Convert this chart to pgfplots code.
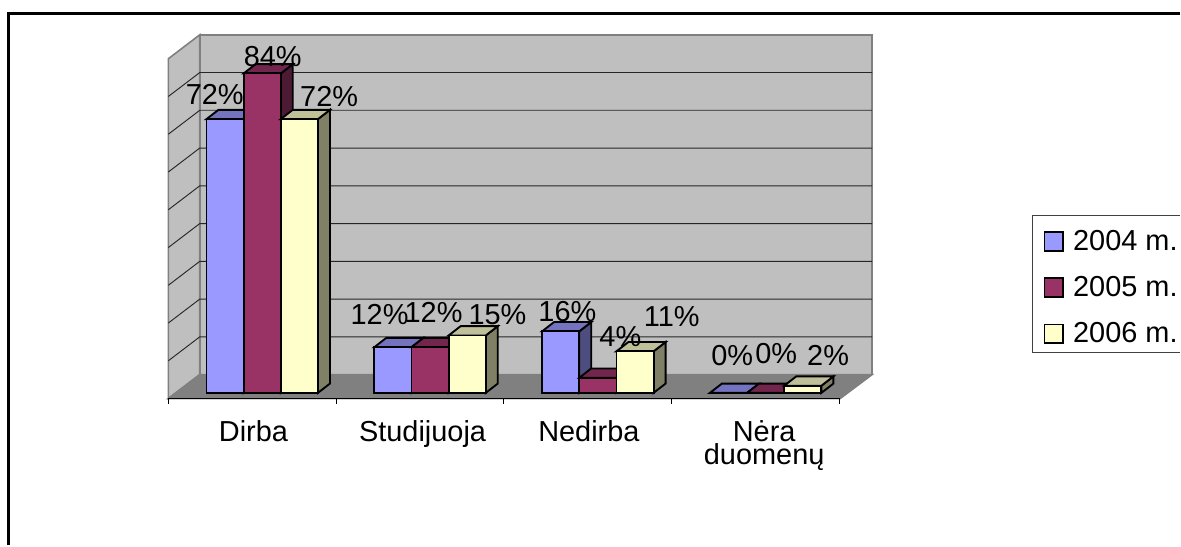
\documentclass[border=0pt]{standalone}
\usepackage{fontspec}
\setmainfont{Liberation Sans}
\usepackage{pgfplots}
\pgfplotsset{compat=1.18}
\definecolor{blueF}{HTML}{9999FF}\definecolor{blueT}{HTML}{7373BF}\definecolor{blueS}{HTML}{4D4D80}
\definecolor{purF}{HTML}{993366}\definecolor{purT}{HTML}{73264D}\definecolor{purS}{HTML}{4D1A33}
\definecolor{creF}{HTML}{FFFFCC}\definecolor{creT}{HTML}{BFBF99}\definecolor{creS}{HTML}{808066}
\tikzset{barline/.style={line width=1.4pt,draw=black}}
% one bar: centre x, value, front, top and side colours
\newcommand{\threedbar}[5]{%
  \addplot[forget plot,fill=#5,barline] coordinates {({#1+18.6},0) ({#1+30.6},2.46) ({#1+30.6},{#2+2.46}) ({#1+18.6},#2)} --cycle;
  \addplot[forget plot,fill=#4,barline] coordinates {({#1-18.6},#2) ({#1-6.6},{#2+2.46}) ({#1+30.6},{#2+2.46}) ({#1+18.6},#2)} --cycle;
  \addplot[forget plot,ybar,bar width=37.2,bar shift=0pt,fill=#3,barline] coordinates {(#1,#2)};
}
\newcommand{\gridpair}[1]{%
  \addplot[forget plot,line width=0.7pt,black!85] coordinates {(168.5,{#1-1.51}) (200,{#1+4.84}) (873,{#1+4.84})};
}
\newcommand{\lab}[3]{%
  \addplot[forget plot,draw=none,mark=none,point meta=explicit symbolic,nodes near coords,
    nodes near coords style={anchor=center,inner sep=0pt,font=\fontsize{21.7}{21.7}\selectfont,text=black}]
    coordinates {(#1,#2)[#3]};
}
\begin{document}
\begin{tikzpicture}
\begin{axis}[
  width=885.75pt,height=409.5pt,scale only axis,
  xmin=0,xmax=1181,ymin=-40.4,ymax=104.05,
  clip=false,
  axis line style={draw=none},
  tick style={draw=none},
  ytick=\empty,
  xtick={253.7,423,589.5,765},
  xticklabels={Dirba,Studijuoja,Nedirba,{Nėra\\duomenų}},
  xticklabel style={align=center,yshift=94pt,inner sep=0pt,
    font=\fontsize{21.7}{17}\selectfont},
  legend image code/.code={\draw[#1,line width=1.3pt] (0pt,-7pt) rectangle (14pt,7pt);\path[draw=none,fill=none] (0pt,0pt) -- (20pt,0pt);},
  legend cell align=left,
  legend style={at={(axis cs:1044.5,43.65)},anchor=north west,draw=none,fill=none,
    font=\fontsize{21.7}{21.7}\selectfont,row sep=15pt,inner sep=0pt,nodes={inner sep=1.5pt}},
]
% outer frame
\addplot[forget plot,black,line width=1.9pt] coordinates {(8.5,-40.4) (8.5,100.5) (1181,100.5)};
% walls and floor
\addplot[forget plot,fill=black!25,draw=black!50,line width=1.2pt] coordinates {(200,4.84) (200,94.84) (873,94.84) (873,4.84)} --cycle;
\addplot[forget plot,fill=black!25,draw=black!50,line width=1.2pt] coordinates {(168.5,-1.51) (168.5,88.49) (200,94.84) (200,4.84)} --cycle;
\addplot[forget plot,fill=black!50,draw=black!50,line width=1.2pt] coordinates {(168.5,-1.51) (841,-1.51) (873,4.84) (200,4.84)} --cycle;
\gridpair{10}\gridpair{20}\gridpair{30}\gridpair{40}\gridpair{50}\gridpair{60}\gridpair{70}\gridpair{80}
\addplot[forget plot,black,line width=0.8pt] coordinates {(168.5,-1.51) (841,-1.51)};
\addplot[forget plot,black,line width=0.8pt] coordinates {(168.5,-1.51) (168.5,-2.9)};
\addplot[forget plot,black,line width=0.8pt] coordinates {(336.5,-1.51) (336.5,-2.9)};
\addplot[forget plot,black,line width=0.8pt] coordinates {(504.5,-1.51) (504.5,-2.9)};
\addplot[forget plot,black,line width=0.8pt] coordinates {(672.5,-1.51) (672.5,-2.9)};
\addplot[forget plot,black,line width=0.8pt] coordinates {(840.7,-1.51) (840.7,-2.9)};
% Dirba
\threedbar{225.3}{72.5}{blueF}{blueT}{blueS}
\threedbar{262.5}{84.6}{purF}{purT}{purS}
\threedbar{299.7}{72.5}{creF}{creT}{creS}
% Studijuoja
\threedbar{393.3}{12.1}{blueF}{blueT}{blueS}
\threedbar{430.5}{12.1}{purF}{purT}{purS}
\threedbar{467.7}{15.2}{creF}{creT}{creS}
% Nedirba
\threedbar{561.3}{16.3}{blueF}{blueT}{blueS}
\threedbar{598.5}{4}{purF}{purT}{purS}
\threedbar{635.7}{11}{creF}{creT}{creS}
% Nera duomenu
\threedbar{729.3}{0}{blueF}{blueT}{blueS}
\threedbar{766.5}{0}{purF}{purT}{purS}
\threedbar{803.7}{1.9}{creF}{creT}{creS}
% data labels
\lab{215}{78.9}{72\%}\lab{273}{89}{84\%}\lab{329.5}{78.5}{72\%}
\lab{380}{20.7}{12\%}\lab{434}{21.3}{12\%}\lab{498}{20.7}{15\%}
\lab{568}{21.6}{16\%}\lab{621}{15}{4\%}\lab{672.5}{20.3}{11\%}
\lab{733}{9.9}{0\%}\lab{777}{10.4}{0\%}\lab{829}{9.9}{2\%}
% legend box (runs off the right edge)
\addplot[forget plot,black!75,line width=0.8pt] coordinates {(1181,47.0) (1034,47.0) (1034,10.7) (1181,10.7)};
\addlegendimage{fill=blueF,draw=black}
\addlegendimage{fill=purF,draw=black}
\addlegendimage{fill=creF,draw=black}
\legend{2004 m.,2005 m.,2006 m.}
\end{axis}
\end{tikzpicture}
\end{document}
